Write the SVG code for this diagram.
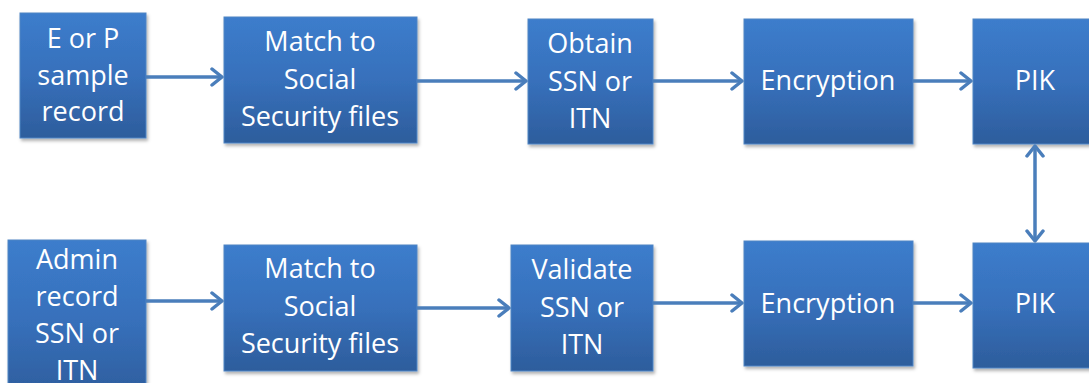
<svg xmlns="http://www.w3.org/2000/svg" width="1089" height="383" viewBox="0 0 1089 383">
  <defs>
    <linearGradient id="boxFill" x1="0" y1="0" x2="0" y2="1">
      <stop offset="0" stop-color="#3c7dcc"/>
      <stop offset="0.5" stop-color="#3770bb"/>
      <stop offset="1" stop-color="#2d5d9c"/>
    </linearGradient>
    <filter id="shadow" x="-10%" y="-10%" width="125%" height="130%">
      <feDropShadow dx="1.5" dy="2.5" stdDeviation="1.5" flood-color="#000" flood-opacity="0.3"/>
    </filter>
    <marker id="open" markerUnits="userSpaceOnUse" viewBox="0 0 14 20" refX="12" refY="10" markerWidth="14" markerHeight="20" orient="auto-start-reverse">
      <path d="M2,2 L12,10 L2,18" fill="none" stroke="#4a7ebb" stroke-width="3.5" stroke-linecap="round" stroke-linejoin="round"/>
    </marker>
  </defs>
  <style>
    .box { fill: url(#boxFill); stroke: #4f85c4; stroke-width: 1; filter: url(#shadow); }
    .lbl { font-family: "Open Sans", "Noto Sans", sans-serif; font-size: 27px; fill: #ffffff; text-anchor: middle; }
    .conn { fill: none; stroke: #4a7ebb; stroke-width: 3.5; marker-end: url(#open); }
  </style>
  <rect width="1089" height="383" fill="#ffffff"/>

  <!-- top row -->
  <g id="ep-sample">
    <rect class="box" x="20" y="13" width="126" height="125"/>
    <text class="lbl" x="83" y="48">E or P</text>
    <text class="lbl" x="83" y="85">sample</text>
    <text class="lbl" x="83" y="121">record</text>
  </g>
  <g id="match-top">
    <rect class="box" x="224" y="17" width="193" height="126"/>
    <text class="lbl" x="320" y="51">Match to</text>
    <text class="lbl" x="320" y="89">Social</text>
    <text class="lbl" x="320" y="126">Security files</text>
  </g>
  <g id="obtain">
    <rect class="box" x="528" y="19" width="125" height="125"/>
    <text class="lbl" x="590" y="53">Obtain</text>
    <text class="lbl" x="590" y="91">SSN or</text>
    <text class="lbl" x="590" y="128">ITN</text>
  </g>
  <g id="encrypt-top">
    <rect class="box" x="744" y="19" width="169" height="125"/>
    <text class="lbl" x="828" y="90">Encryption</text>
  </g>
  <g id="pik-top">
    <rect class="box" x="973" y="19" width="125" height="125"/>
    <text class="lbl" x="1035" y="90">PIK</text>
  </g>

  <!-- bottom row -->
  <g id="admin">
    <rect class="box" x="8" y="240" width="138" height="160"/>
    <text class="lbl" x="77" y="269">Admin</text>
    <text class="lbl" x="77" y="306">record</text>
    <text class="lbl" x="77" y="343">SSN or</text>
    <text class="lbl" x="77" y="380">ITN</text>
  </g>
  <g id="match-bottom">
    <rect class="box" x="224" y="245" width="193" height="126"/>
    <text class="lbl" x="320" y="278">Match to</text>
    <text class="lbl" x="320" y="316">Social</text>
    <text class="lbl" x="320" y="353">Security files</text>
  </g>
  <g id="validate">
    <rect class="box" x="511" y="245" width="142" height="126"/>
    <text class="lbl" x="582" y="279">Validate</text>
    <text class="lbl" x="582" y="317">SSN or</text>
    <text class="lbl" x="582" y="354">ITN</text>
  </g>
  <g id="encrypt-bottom">
    <rect class="box" x="744" y="241" width="169" height="125"/>
    <text class="lbl" x="828" y="313">Encryption</text>
  </g>
  <g id="pik-bottom">
    <rect class="box" x="973" y="243" width="125" height="125"/>
    <text class="lbl" x="1035" y="313">PIK</text>
  </g>

  <!-- connectors -->
  <g id="connectors">
    <line class="conn" x1="146" y1="77" x2="222" y2="77"/>
    <line class="conn" x1="417" y1="81" x2="526" y2="81"/>
    <line class="conn" x1="653" y1="81" x2="742" y2="81"/>
    <line class="conn" x1="913" y1="81" x2="971" y2="81"/>
    <line class="conn" x1="146" y1="301" x2="222" y2="301"/>
    <line class="conn" x1="417" y1="308" x2="509" y2="308"/>
    <line class="conn" x1="653" y1="303" x2="742" y2="303"/>
    <line class="conn" x1="913" y1="303" x2="971" y2="303"/>
    <line class="conn" x1="1035" y1="146" x2="1035" y2="241" marker-start="url(#open)"/>
  </g>
</svg>
